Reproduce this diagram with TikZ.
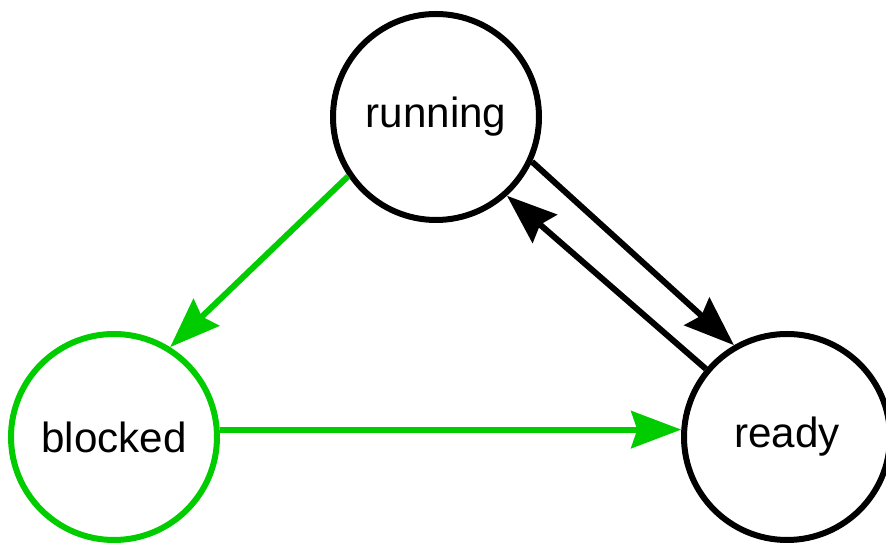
\documentclass[tikz,border=0pt]{standalone}
\usepackage{fontspec}
\setmainfont{Liberation Sans}
\usetikzlibrary{arrows.meta}
\definecolor{stategreen}{HTML}{00CC00}
\begin{document}
\begin{tikzpicture}\tikzstyle{every node}=[font=\fontsize{24}{29}\selectfont]
\tikzstyle{state}=[draw, circle, line width=0.12cm, minimum size=4.12cm, inner sep=0pt]
\tikzstyle{edge}=[line width=0.12cm, -{Stealth[length=1cm, width=0.74cm, inset=0.12cm]}]
\useasboundingbox (0,0) rectangle (17.72,10.86);
\node[state] (running) at (8.72,8.52) {running};
\node[state, stategreen, text=black] (blocked) at (2.28,2.12) {blocked};
\node[state] (ready) at (15.74,2.12) {ready};
%%%%%%%%%%%%%
\draw[edge, stategreen] (running.214) -- (blocked.58);
\draw[edge, stategreen] (blocked.4) -- (ready.176);
\draw[edge] (running.-25) -- (ready.120);
\draw[edge] (ready.140) -- (running.-48);
\end{tikzpicture}
\end{document}
